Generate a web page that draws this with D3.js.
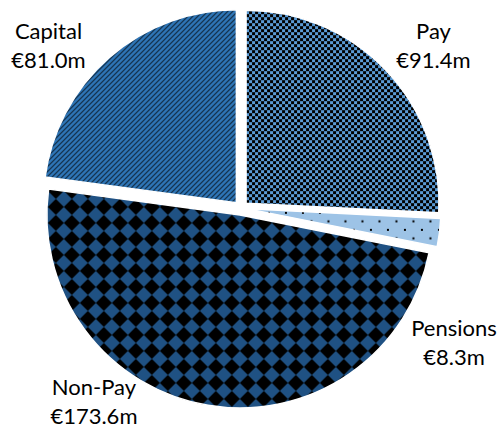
<!DOCTYPE html>
<html>
<head>
<meta charset="utf-8">
<script src="https://cdn.jsdelivr.net/npm/d3@7"></script>
<style>
  body { margin: 0; background: #fff; }
  text { font-family: Lato, "Open Sans", sans-serif; fill: #000; }
</style>
</head>
<body>
<svg id="chart" width="500" height="428"></svg>
<script>
// Spending breakdown, €m
const categories = ["Pay", "Pensions", "Non-Pay", "Capital"];
const values = [91.4, 8.3, 173.6, 81.0];
const valueLabels = ["€91.4m", "€8.3m", "€173.6m", "€81.0m"];
const fills = ["url(#pat-check)", "url(#pat-dots)", "url(#pat-diamond)", "url(#pat-diag)"];

// label placement: angle (deg, clockwise from 12 o'clock) and distance from pie centre
const labelLayout = [
  { angle: 51.2, dist: 247 },
  { angle: 123.7, dist: 256 },
  { angle: 216.2, dist: 249 },
  { angle: 308.8, dist: 247 }
];

const cx = 241, cy = 208, R = 193, explode = 7;

const svg = d3.select("#chart");
const defs = svg.append("defs");

// checkerboard: black and light blue
const pc = defs.append("pattern").attr("id", "pat-check").attr("patternUnits", "userSpaceOnUse")
  .attr("width", 6).attr("height", 6);
pc.append("rect").attr("width", 6).attr("height", 6).attr("fill", "#000");
pc.append("rect").attr("x", 0).attr("y", 0).attr("width", 3).attr("height", 3).attr("fill", "#5B9BD5");
pc.append("rect").attr("x", 3).attr("y", 3).attr("width", 3).attr("height", 3).attr("fill", "#5B9BD5");

// sparse dots on pale blue
const pd = defs.append("pattern").attr("id", "pat-dots").attr("patternUnits", "userSpaceOnUse")
  .attr("width", 17).attr("height", 17);
pd.append("rect").attr("width", 17).attr("height", 17).attr("fill", "#9DC3E6");
pd.append("rect").attr("x", 3).attr("y", 3).attr("width", 2).attr("height", 2).attr("fill", "#000");
pd.append("rect").attr("x", 11.5).attr("y", 11.5).attr("width", 2).attr("height", 2).attr("fill", "#000");

// solid diamond: black diamonds on dark blue
const pm = defs.append("pattern").attr("id", "pat-diamond").attr("patternUnits", "userSpaceOnUse")
  .attr("width", 16).attr("height", 16);
pm.append("rect").attr("width", 16).attr("height", 16).attr("fill", "#1F5183");
pm.append("path").attr("d", "M8,0 L16,8 L8,16 L0,8 Z").attr("fill", "#000");

// upward diagonal lines on mid blue
const pg = defs.append("pattern").attr("id", "pat-diag").attr("patternUnits", "userSpaceOnUse")
  .attr("width", 5).attr("height", 5);
pg.append("rect").attr("width", 5).attr("height", 5).attr("fill", "#2E75B6");
[[4, 0], [3, 1], [2, 2], [1, 3], [0, 4]].forEach(([x, y]) =>
  pg.append("rect").attr("x", x).attr("y", y).attr("width", 1).attr("height", 1).attr("fill", "#000"));

const pie = d3.pie().sort(null).value(d => d)(values);
const arc = d3.arc().innerRadius(0).outerRadius(R);

const g = svg.append("g").attr("transform", `translate(${cx},${cy})`);

g.selectAll("path.slice")
  .data(pie)
  .join("path")
  .attr("class", "slice")
  .attr("d", arc)
  .attr("fill", (d, i) => fills[i])
  .attr("stroke", "#fff")
  .attr("stroke-width", 1.5)
  .attr("transform", d => {
    const a = (d.startAngle + d.endAngle) / 2;
    return `translate(${explode * Math.sin(a)},${-explode * Math.cos(a)})`;
  });

const labels = g.selectAll("g.label")
  .data(pie)
  .join("g")
  .attr("class", "label")
  .attr("transform", (d, i) => {
    const a = labelLayout[i].angle * Math.PI / 180;
    const r = labelLayout[i].dist;
    return `translate(${r * Math.sin(a)},${-r * Math.cos(a)})`;
  });

labels.append("text")
  .attr("text-anchor", "middle")
  .attr("font-size", 22)
  .attr("y", -14)
  .text((d, i) => categories[i]);
labels.append("text")
  .attr("text-anchor", "middle")
  .attr("font-size", 22)
  .attr("y", 15)
  .text((d, i) => valueLabels[i]);
</script>
</body>
</html>
